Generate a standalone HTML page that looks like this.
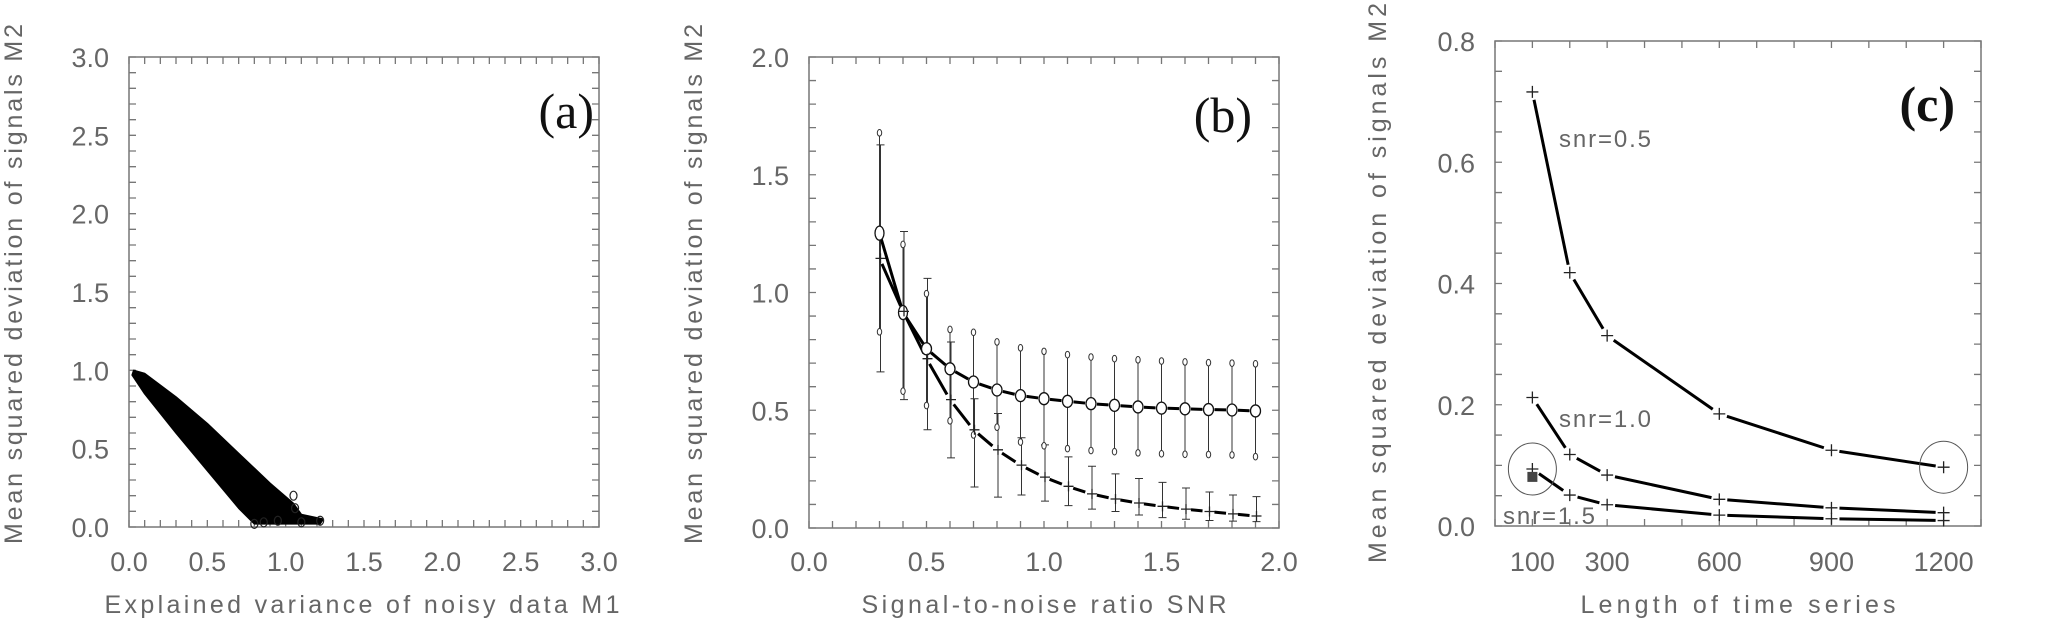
<!DOCTYPE html>
<html><head><meta charset="utf-8"><style>
html,body{margin:0;padding:0;background:#fff}
svg{display:block}
text{font-family:"Liberation Sans",sans-serif}
</style></head><body>
<svg id="fig" width="2065" height="627" viewBox="0 0 2065 627" xmlns="http://www.w3.org/2000/svg"></svg>
<script>
// ---------- Panel (a) data ----------
const aCloudX = [0.03,0.10,0.30,0.50,0.70,0.90,1.05,1.10,1.24,1.22,1.05,0.80,0.70,0.50,0.30,0.10,0.02];
const aCloudY = [1.00,0.98,0.83,0.66,0.47,0.28,0.15,0.08,0.05,0.02,0.02,0.02,0.12,0.36,0.60,0.85,0.97];
const aOutX = [1.05,1.06,1.10,0.80,0.86,1.22,0.95];
const aOutY = [0.20,0.12,0.03,0.02,0.03,0.04,0.04];
const aTicks = ["0.0","0.5","1.0","1.5","2.0","2.5","3.0"];
// ---------- Panel (b) data ----------
const bSnr = [0.3,0.4,0.5,0.6,0.7,0.8,0.9,1.0,1.1,1.2,1.3,1.4,1.5,1.6,1.7,1.8,1.9];
const bCirc = [1.252,0.915,0.761,0.676,0.620,0.586,0.562,0.549,0.538,0.528,0.521,0.514,0.509,0.506,0.503,0.501,0.497];
const bCircHi = [1.678,1.204,0.995,0.843,0.831,0.790,0.765,0.750,0.736,0.726,0.719,0.714,0.709,0.705,0.702,0.700,0.697];
const bCircLo = [0.833,0.581,0.520,0.455,0.395,0.428,0.365,0.349,0.337,0.329,0.324,0.319,0.315,0.313,0.312,0.310,0.303];
const bPlus = [1.145,0.920,0.719,0.545,0.417,0.332,0.267,0.216,0.177,0.145,0.123,0.106,0.092,0.080,0.070,0.060,0.051];
const bPlusHi = [1.627,1.259,1.060,0.790,0.549,0.486,0.383,0.353,0.302,0.262,0.230,0.210,0.194,0.170,0.153,0.140,0.133];
const bPlusLo = [0.663,0.545,0.417,0.298,0.174,0.131,0.140,0.114,0.095,0.080,0.070,0.055,0.044,0.037,0.032,0.029,0.027];
const bTicksX = ["0.0","0.5","1.0","1.5","2.0"];
const bTicksY = ["0.0","0.5","1.0","1.5","2.0"];
// ---------- Panel (c) data ----------
const cLen = [100,200,300,600,900,1200];
const cSnr05 = [0.716,0.418,0.314,0.185,0.125,0.097];
const cSnr10 = [0.212,0.118,0.084,0.044,0.030,0.022];
const cSnr15 = [0.094,0.051,0.035,0.018,0.012,0.009];
const cTicksX = ["100","300","600","900","1200"];
const cTicksY = ["0.0","0.2","0.4","0.6","0.8"];

const NS="http://www.w3.org/2000/svg";
const svg=document.getElementById('fig');
function mk(tag,attrs,parent){const e=document.createElementNS(NS,tag);for(const k in attrs)e.setAttribute(k,attrs[k]);(parent||svg).appendChild(e);return e;}

function axisFrame(g,L,T,R,B,xmin,xmax,xstep,ymin,ymax,ystep,tl){
  const sx=v=>L+(v-xmin)/(xmax-xmin)*(R-L);
  const sy=v=>B-(v-ymin)/(ymax-ymin)*(B-T);
  const fr=mk('rect',{x:L,y:T,width:R-L,height:B-T,fill:'none',stroke:'#777','stroke-width':1.5},g);
  
  
  let d='';
  for(let v=xmin;v<=xmax+1e-9;v+=xstep){const x=sx(v);d+=`M${x} ${B}v-${tl}M${x} ${T}v${tl}`;}
  for(let v=ymin;v<=ymax+1e-9;v+=ystep){const y=sy(v);d+=`M${L} ${y}h${tl}M${R} ${y}h-${tl}`;}
  const tk=mk('path',{d:d,stroke:'#777','stroke-width':1.3,fill:'none'},g);
  
  
  return {sx,sy};
}
function label(g,x,y,txt,anchor,size,name,extra){
  const t=mk('text',Object.assign({x:x,y:y,'text-anchor':anchor,'font-size':size,fill:'#666'},extra||{}),g);
  t.textContent=txt;
  
  
  return t;
}
function gapLine(g,pts,gap,w,name){
  let d='';
  for(let i=0;i<pts.length-1;i++){
    const [x1,y1]=pts[i],[x2,y2]=pts[i+1];const dx=x2-x1,dy=y2-y1,l=Math.hypot(dx,dy);
    if(l<2*gap+1)continue;const ux=dx/l,uy=dy/l;
    d+=`M${x1+ux*gap} ${y1+uy*gap}L${x2-ux*gap} ${y2-uy*gap}`;
  }
  const p=mk('path',{d:d,stroke:'#000','stroke-width':w,fill:'none'},g);
  
  
}
function plus(g,x,y,s,name){
  const p=mk('path',{d:`M${x-s} ${y}h${2*s}M${x} ${y-s}v${2*s}`,stroke:'#222','stroke-width':1.3,fill:'none'},g);
  
  
}
function yTitle(g,x,cy,len,txt){
  const t=mk('text',{x:0,y:0,transform:`translate(${x},${cy}) rotate(-90)`,'text-anchor':'middle','font-size':25,fill:'#666',textLength:len,lengthAdjust:'spacing'},g);
  t.textContent=txt;
  
  
}
function xTitle(g,cx,y,len,txt){
  const t=mk('text',{x:cx,y:y,'text-anchor':'middle','font-size':25,fill:'#666',textLength:len,lengthAdjust:'spacing'},g);
  t.textContent=txt;
  
  
}
function panelLabel(g,x,y,txt,bold){
  const t=mk('text',{x:x,y:y,'text-anchor':'end',fill:'#111',style:`font-family:"Liberation Serif",serif;font-size:50px;font-weight:${bold?'bold':'normal'}`},g);
  t.textContent=txt;
  
  
}

// ===== Panel (a) =====
(function(){
  const g=mk('g',{});
  
  
  const {sx,sy}=axisFrame(g,129,57,599,527,0,3,0.1,0,3,0.1,7);
  aTicks.forEach((t,i)=>{const v=i*0.5;label(g,sx(v),571,t,'middle',27,'x-tick-label');label(g,109,sy(v)+10,t,'end',27,'y-tick-label');});
  const pts=aCloudX.map((x,i)=>`${sx(x)},${sy(aCloudY[i])}`).join(' ');
  const c=mk('polygon',{points:pts,fill:'#000',stroke:'#000','stroke-width':1.5,'stroke-linejoin':'round'},g);
  
  
  aOutX.forEach((x,i)=>{const e=mk('ellipse',{cx:sx(x),cy:sy(aOutY[i]),rx:3.5,ry:4.5,fill:'none',stroke:'#222','stroke-width':1.2},g);
    
    });
  panelLabel(g,594,128,'(a)',false);
  yTitle(g,22,284,520,'Mean squared deviation of signals M2');
  xTitle(g,362,613,515,'Explained variance of noisy data M1');
})();

// ===== Panel (b) =====
(function(){
  const g=mk('g',{});
  
  
  const {sx,sy}=axisFrame(g,809,57,1279,528,0,2,0.1,0,2,0.1,7);
  bTicksX.forEach((t,i)=>label(g,sx(i*0.5),571,t,'middle',27,'x-tick-label'));
  bTicksY.forEach((t,i)=>label(g,789,sy(i*0.5)+10,t,'end',27,'y-tick-label'));
  bSnr.forEach((s,i)=>{
    const x=sx(s);
    const l=mk('line',{x1:x,y1:sy(bCircHi[i]),x2:x,y2:sy(bCircLo[i]),stroke:'#333','stroke-width':1},g);
    
    
    const xp=x+1;
    const p=mk('path',{d:`M${xp} ${sy(bPlusHi[i])}V${sy(bPlusLo[i])}M${xp-4} ${sy(bPlusHi[i])}h8M${xp-4} ${sy(bPlusLo[i])}h8`,stroke:'#333','stroke-width':1,fill:'none'},g);
    
    
    [bCircHi[i],bCircLo[i]].forEach(v=>{const e=mk('ellipse',{cx:x,cy:sy(v),rx:2.2,ry:3.3,fill:'#fff',stroke:'#333','stroke-width':1},g);
      
      });
  });
  gapLine(g,bSnr.map((s,i)=>[sx(s),sy(bCirc[i])]),6,3,'circle-series-line');
  gapLine(g,bSnr.map((s,i)=>[sx(s),sy(bPlus[i])]),6,3,'plus-series-line');
  bSnr.forEach((s,i)=>{
    const big=i<2;
    const e=mk('ellipse',{cx:sx(s),cy:sy(bCirc[i]),rx:big?4.5:5,ry:big?7:6,fill:'#fff',stroke:'#111','stroke-width':1.3},g);
    
    
    plus(g,sx(s)+1,sy(bPlus[i]),5,'plus-marker');
  });
  panelLabel(g,1252,132,'(b)',false);
  yTitle(g,702,284,520,'Mean squared deviation of signals M2');
  xTitle(g,1044,613,365,'Signal-to-noise ratio SNR');
})();

// ===== Panel (c) =====
(function(){
  const g=mk('g',{});
  
  
  const {sx,sy}=axisFrame(g,1495,41,1981,526,0,1300,100,0,0.8,0.05,7);
  cTicksX.forEach(t=>label(g,sx(+t),571,t,'middle',27,'x-tick-label'));
  cTicksY.forEach(t=>label(g,1475,sy(+t)+10,t,'end',27,'y-tick-label'));
  [[cSnr05,'snr-0.5-line'],[cSnr10,'snr-1.0-line'],[cSnr15,'snr-1.5-line']].forEach(([arr,n])=>{
    gapLine(g,cLen.map((l,i)=>[sx(l),sy(arr[i])]),8,3,n);
    cLen.forEach((l,i)=>plus(g,sx(l),sy(arr[i]),6,'plus-marker'));
  });
  const sq=mk('rect',{x:sx(cLen[0])-5,y:sy(0.081)-5,width:10,height:10,fill:'#444'},g);
  
  
  [[cLen[0],cSnr15[0]],[cLen[5],cSnr05[5]]].forEach(([l,v])=>{
    const e=mk('ellipse',{cx:sx(l),cy:sy(v),rx:24,ry:26,fill:'none',stroke:'#555','stroke-width':1},g);
    
    
  });
  label(g,1559,147,'snr=0.5','start',24,'series-label-snr-0.5',{textLength:92,lengthAdjust:'spacing'});
  label(g,1559,427,'snr=1.0','start',24,'series-label-snr-1.0',{textLength:92,lengthAdjust:'spacing'});
  label(g,1503,524,'snr=1.5','start',24,'series-label-snr-1.5',{textLength:92,lengthAdjust:'spacing'});
  panelLabel(g,1955,121,'(c)',true);
  yTitle(g,1386,283,560,'Mean squared deviation of signals M2');
  xTitle(g,1738,613,315,'Length of time series');
})();
</script>
</body></html>
